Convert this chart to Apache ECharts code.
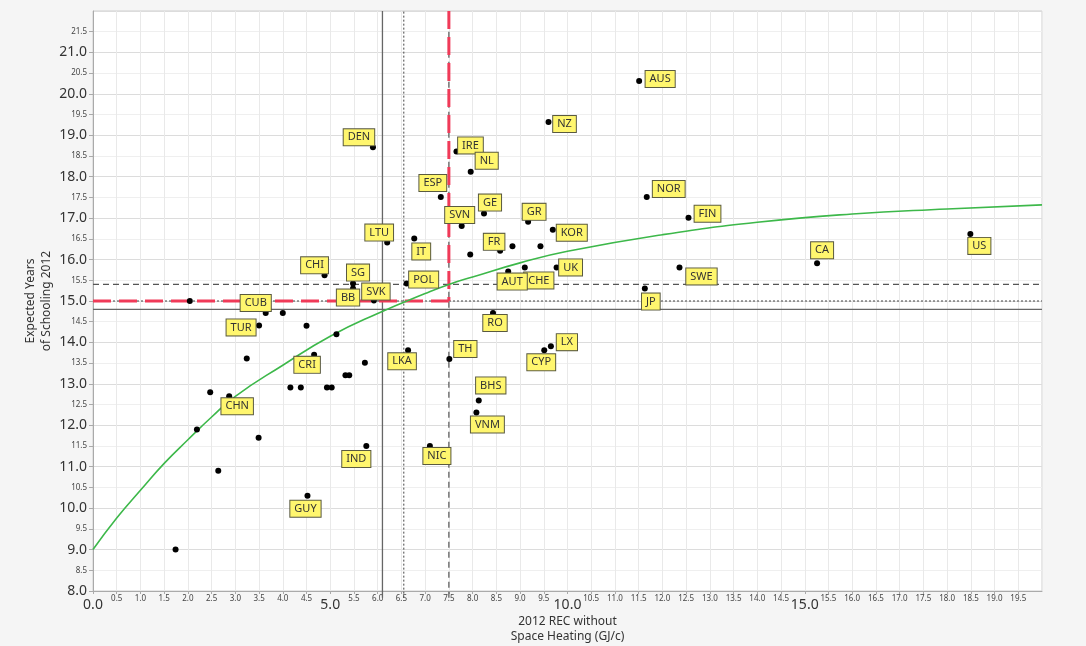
<!DOCTYPE html>
<html>
<head>
<meta charset="utf-8">
<script src="https://cdn.jsdelivr.net/npm/echarts@6/dist/echarts.min.js"></script>
<style>html,body{margin:0;padding:0;background:#f5f5f5;}#c{width:1086px;height:646px;}</style>
</head>
<body>
<div id="c"></div>
<script>
// Labelled countries
const countryNames = ['AUS','NZ','DEN','IRE','NL','ESP','NOR','GE','FIN','GR','SVN','KOR','US','IT','LTU','FR','CA','CHI','UK','CHE','SWE','AUT','SG','POL','BB','JP','SVK','CUB','RO','TUR','LX','LKA','CYP','CRI','TH','CHN','BHS','VNM','IND','NIC','GUY'];
const countryRec = [11.51,9.60,5.90,7.66,7.96,7.33,11.67,8.24,12.55,9.17,7.77,9.69,18.49,6.77,6.20,8.58,15.26,4.88,9.77,9.10,12.36,8.75,5.48,6.61,5.48,11.63,5.92,3.64,8.43,3.50,9.65,6.64,9.51,4.66,7.51,2.87,8.13,8.08,5.76,7.10,4.52];
const countrySchool = [20.31,19.32,18.71,18.61,18.12,17.51,17.51,17.11,17.01,16.91,16.81,16.72,16.62,16.51,16.41,16.21,15.91,15.62,15.81,15.81,15.81,15.71,15.42,15.42,15.30,15.30,15.01,14.71,14.71,14.41,13.91,13.81,13.81,13.70,13.60,12.70,12.60,12.31,11.50,11.50,10.30];
// Unlabelled countries
const otherRec = [2.04,4.00,4.50,5.13,3.24,5.73,5.32,5.40,4.16,4.38,4.93,5.03,2.47,2.19,3.49,2.64,1.74,7.95,8.84,9.43];
const otherSchool = [15.00,14.71,14.40,14.20,13.61,13.51,13.21,13.21,12.91,12.91,12.91,12.91,12.80,11.90,11.70,10.90,9.00,16.12,16.32,16.32];
// Fitted curve
const curveX = [0,0.5,1,1.5,2,2.5,3,4,5,6,7,7.5,8,9,10,12,14,16,18,20];
const curveY = [9.0,9.76,10.43,11.08,11.65,12.2,12.7,13.45,14.15,14.7,15.18,15.4,15.58,15.92,16.2,16.6,16.9,17.1,17.22,17.32];
// Reference lines
const refV = {solid: 6.1, dotted: 6.55, dashed: 7.5};
const refH = {solid: 14.8, dotted: 15.0, dashed: 15.4};
const redX = 7.5, redY = 15.0;
const xMin = 0, xMax = 20, yMin = 8, yMax = 22;

// label placement (style, px offsets of label centre from point)
const labelOffsets = {
 AUS:[21,-2], NZ:[16,2], DEN:[-14,-10], IRE:[14,-6], NL:[16,-11], ESP:[-8,-14], NOR:[22,-8], GE:[6,-11], FIN:[19,-4],
 GR:[6,-10], SVN:[-2,-11], KOR:[19,3], US:[9,12], IT:[7,13], LTU:[-8,-10], FR:[-6,-9], CA:[5,-13], CHI:[-10,-10],
 UK:[14,0], CHE:[14,13], SWE:[22,9], AUT:[4,10], SG:[5,-11], POL:[17,-4], BB:[-5,9], JP:[6,13], SVK:[2,-9],
 CUB:[-10,-10], RO:[2,10], TUR:[-18,2], LX:[16,-4], LKA:[-6,11], CYP:[-3,12], CRI:[-7,10], TH:[16,-10],
 CHN:[8,10], BHS:[12,-15], VNM:[11,12], IND:[-10,13], NIC:[7,10], GUY:[-2,13]
};

const labelled = countryNames.map((n,i)=>[countryRec[i], countrySchool[i], n]);
const others = otherRec.map((x,i)=>[x, otherSchool[i]]);
const curve = curveX.map((x,i)=>[x, curveY[i]]);

const FONT = '"Noto Sans", "Open Sans", sans-serif';
const chart = echarts.init(document.getElementById('c'), null, {renderer:'canvas'});

function refLine(data, color, type, width, z){
  return {type:'line', data, symbol:'none', silent:true, animation:false, clip:false, z:z||2,
    lineStyle:{color, type, width}};
}

chart.setOption({
  backgroundColor:'#f5f5f5',
  animation:false,
  grid:{left:93, right:44, top:11, bottom:55, outerBoundsMode:'none', containLabel:false,
    show:true, backgroundColor:'#ffffff', borderColor:'#cfcfcf', borderWidth:1},
  xAxis:{
    type:'value', min:xMin, max:xMax, interval:0.5,
    name:'2012 REC without\nSpace Heating (GJ/c)', nameLocation:'middle', nameGap:23, nameMoveOverlap:false,
    nameTextStyle:{fontFamily:FONT, fontSize:12, color:'#333', lineHeight:15},
    axisLine:{show:true, lineStyle:{color:'#aaaaaa'}},
    axisTick:{show:true, length:3, lineStyle:{color:'#aaaaaa'}},
    splitLine:{show:true, lineStyle:{color:['#e9e9e9'], width:1}},
    axisLabel:{
      margin:4, showMaxLabel:false, hideOverlap:false,
      formatter:(v)=> (Math.abs(v % 5) < 1e-9) ? '{big|'+v.toFixed(1)+'}' : '{small|'+v.toFixed(1)+'}',
      rich:{
        big:{fontFamily:FONT, fontSize:14, color:'#333', padding:[3,0,0,0]},
        small:{fontFamily:FONT, fontSize:8, color:'#444'}
      }
    }
  },
  yAxis:{
    type:'value', min:yMin, max:yMax, interval:0.5,
    name:'Expected Years\nof Schooling 2012', nameLocation:'middle', nameGap:38, nameRotate:90, nameMoveOverlap:false,
    nameTextStyle:{fontFamily:FONT, fontSize:12, color:'#333', lineHeight:16},
    axisLine:{show:true, lineStyle:{color:'#aaaaaa'}},
    axisTick:{show:true, length:4, lineStyle:{color:'#aaaaaa'}},
    splitLine:{show:true, lineStyle:{color:['#dcdcdc','#efefef'], width:1}},
    axisLabel:{
      margin:6, showMaxLabel:false,
      formatter:(v)=> (Math.abs(v % 1) < 1e-9) ? '{big|'+v.toFixed(1)+'}' : '{small|'+v.toFixed(1)+'}',
      rich:{
        big:{fontFamily:FONT, fontSize:14, color:'#333'},
        small:{fontFamily:FONT, fontSize:8, color:'#444'}
      }
    }
  },
  series:[
    refLine([[refV.solid, yMin-0.16],[refV.solid, yMax]], '#666666', 'solid', 1.3),
    refLine([[refV.dotted, yMin-0.16],[refV.dotted, yMax]], '#444444', [2,2], 1),
    refLine([[refV.dashed, yMin-0.16],[refV.dashed, yMax]], '#555555', [6,4], 1.2),
    refLine([[xMin, refH.solid],[xMax, refH.solid]], '#666666', 'solid', 1.3),
    refLine([[xMin, refH.dotted],[xMax, refH.dotted]], '#444444', [2,2], 1),
    refLine([[xMin, refH.dashed],[xMax, refH.dashed]], '#555555', [6,4], 1.2),
    refLine([[redX, yMax],[redX, redY]], '#f03a58', [18,8], 3, 3),
    refLine([[xMin, redY],[redX, redY]], '#f03a58', [18,8], 3, 3),
    {type:'line', data:curve, smooth:true, symbol:'none', silent:true, z:4,
      lineStyle:{color:'#3db84a', width:1.6}},
    {type:'scatter', data:others, symbolSize:6, z:5, itemStyle:{color:'#000', opacity:1}},
    {type:'scatter', data:labelled, symbolSize:6, z:6, itemStyle:{color:'#000', opacity:1},
      label:{show:true, position:'inside', formatter:(p)=>p.value[2],
        fontFamily:FONT, fontSize:11, color:'#333', lineHeight:12,
        backgroundColor:'#fff66e', borderColor:'#5a5a40', borderWidth:1,
        padding:[2,4,2,4]},
      labelLayout:(p)=>{
        const o = labelOffsets[countryNames[p.dataIndex]] || [0,-12];
        return {dx:o[0], dy:o[1], hideOverlap:false};
      }}
  ]
});
</script>
</body>
</html>
